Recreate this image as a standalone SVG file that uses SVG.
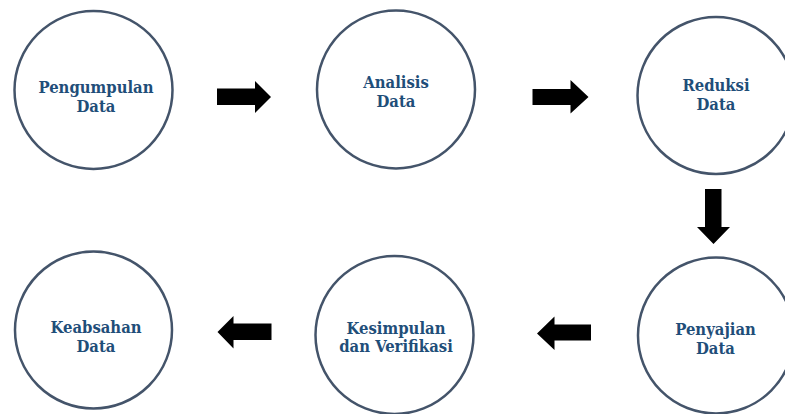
<svg xmlns="http://www.w3.org/2000/svg" width="785" height="414" viewBox="0 0 785 414">
<style>
.c{fill:#fff;stroke:#44546A;stroke-width:2.5}
.t{font-family:"DejaVu Serif Condensed","DejaVu Serif",serif;font-stretch:condensed;font-weight:bold;font-size:16.5px;fill:#1F4E79;text-anchor:middle}
.a{fill:#000}
</style>
<rect width="785" height="414" fill="#fff"/>
<g id="n1"><circle class="c" cx="93.5" cy="90" r="79"/><text class="t" x="96" y="92.5">Pengumpulan</text><text class="t" x="96" y="111.5">Data</text></g>
<g id="n2"><circle class="c" cx="396" cy="89.5" r="79"/><text class="t" x="396" y="87.5">Analisis</text><text class="t" x="396" y="106.5">Data</text></g>
<g id="n3"><circle class="c" cx="716" cy="95.5" r="78.5"/><text class="t" x="716" y="90.5">Reduksi</text><text class="t" x="716" y="110">Data</text></g>
<g id="n4"><circle class="c" cx="716" cy="335.5" r="78"/><text class="t" x="715.5" y="335">Penyajian</text><text class="t" x="715.5" y="354">Data</text></g>
<g id="n5"><circle class="c" cx="394.5" cy="335" r="79"/><text class="t" x="396" y="333.5">Kesimpulan</text><text class="t" x="396" y="352">dan Verifikasi</text></g>
<g id="n6"><circle class="c" cx="93.5" cy="330" r="78.5"/><text class="t" x="96" y="332.5">Keabsahan</text><text class="t" x="96" y="351.5">Data</text></g>
<g id="connectors">
<polygon class="a" points="217,88.5 255,88.5 255,81 271,97 255,113 255,105 217,105"/>
<polygon class="a" points="532.5,89 570.5,89 570.5,80 588.5,97 570.5,113.5 570.5,105 532.5,105"/>
<polygon class="a" points="705,189 721.5,189 721.5,227 730,227 713.5,244 697,227 705,227"/>
<polygon class="a" points="591,324.5 554.5,324.5 554.5,316.5 537,333.5 554.5,350 554.5,340.5 591,340.5"/>
<polygon class="a" points="271.5,323.5 233.5,323.5 233.5,316 217.5,332 233.5,348.5 233.5,340 271.5,340"/>
</g>
</svg>
